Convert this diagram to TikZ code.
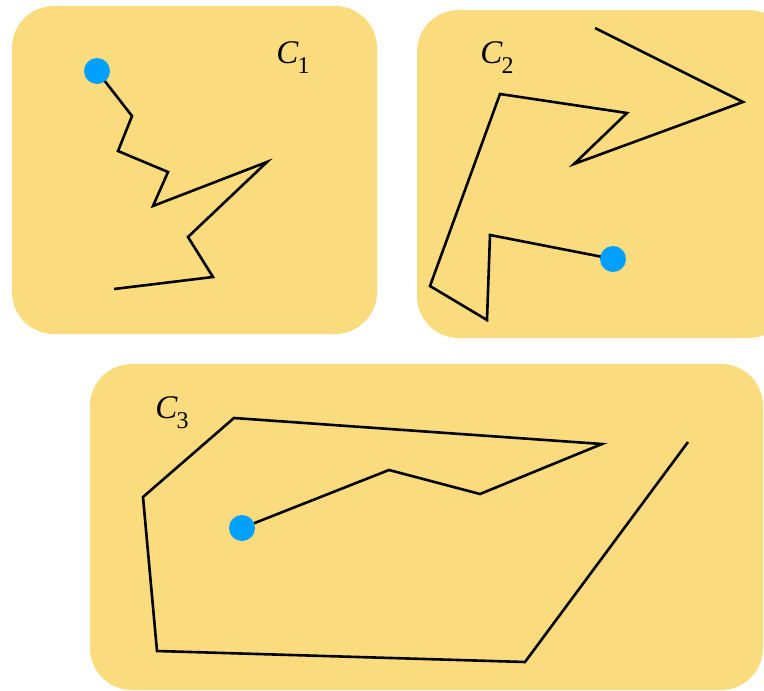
\documentclass[tikz,border=0pt]{standalone}
\usepackage{fontspec}
\setmainfont{Liberation Serif}
\definecolor{boxfill}{RGB}{250,219,126}
\definecolor{dotblue}{RGB}{0,160,255}
\tikzset{
  region/.style={fill=boxfill, draw=none, rounded corners=42pt},
  walk/.style={draw=black, line width=2.6pt, line join=miter},
  startdot/.style={fill=dotblue, draw=none},
  clabel/.style={font=\fontsize{33}{37}\selectfont\itshape, inner sep=0pt}
}
\newcommand{\clab}[1]{C\kern-1pt\raisebox{-0.3em}{\fontsize{24}{27}\selectfont\upshape #1}}
\begin{document}
\begin{tikzpicture}[x=1pt,y=-1pt]
\useasboundingbox (0,0) rectangle (764,691);
\clip (0,0) rectangle (764,691);
% regions
\fill[region] (12,6) rectangle (377,334);
\fill[region] (417,10) rectangle (790,338);
\fill[region] (90,364) rectangle (763,690);
% labels
\node[clabel] (l1) at (293,58) {\clab{1}};
\node[clabel] (l2) at (497,58) {\clab{2}};
\node[clabel] (l3) at (172,413) {\clab{3}};
% C1 walk
\draw[walk] (97,71) -- (132,116) -- (118,151) -- (168,172) -- (153,206) -- (267,162) -- (188,237) -- (213,277) -- (114,289);
\fill[startdot] (97,71) circle (13);
% C2 walk
\draw[walk] (613,259) -- (490,235) -- (487,320) -- (430,286) -- (500,94) -- (627,113) -- (574,164) -- (743,102) -- (595,28);
\fill[startdot] (613,259) circle (13);
% C3 walk
\draw[walk] (242,528) -- (389,470) -- (480,494) -- (602,444) -- (234,418) -- (143,497) -- (157,651) -- (525,662) -- (688,442);
\fill[startdot] (242,528) circle (13);
\end{tikzpicture}
\end{document}
